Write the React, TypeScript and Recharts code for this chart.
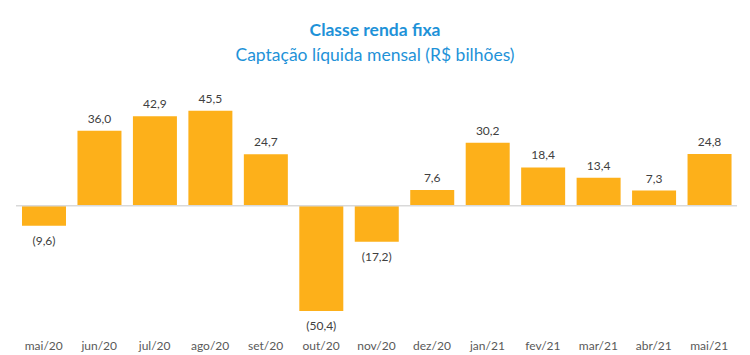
import React from 'react';
import { BarChart, Bar, XAxis, YAxis, ReferenceLine, LabelList } from 'recharts';

const months = [
  'mai/20', 'jun/20', 'jul/20', 'ago/20', 'set/20', 'out/20', 'nov/20',
  'dez/20', 'jan/21', 'fev/21', 'mar/21', 'abr/21', 'mai/21',
];
const captacao = [-9.6, 36.0, 42.9, 45.5, 24.7, -50.4, -17.2, 7.6, 30.2, 18.4, 13.4, 7.3, 24.8];

const FONT = 'Lato, "Open Sans", sans-serif';
const BAR_COLOR = '#FDB01A';
const BLUE = '#1E92D8';

const fmt = (v: number) => {
  const s = Math.abs(v).toFixed(1).replace('.', ',');
  return v < 0 ? `(${s})` : s;
};

const ValueLabel = (props: any) => {
  const { x, y, width, height, value } = props;
  const top = Math.min(y, y + height);
  const bottom = Math.max(y, y + height);
  const cx = x + width / 2;
  const ty = value < 0 ? bottom + 19 : top - 8;
  return (
    <text x={cx} y={ty} textAnchor="middle" fill="#404040" fontSize={12} fontFamily={FONT}>
      {fmt(value)}
    </text>
  );
};

const App: React.FC = () => {
  const data = months.map((m, i) => ({ name: m, value: captacao[i] }));

  return (
    <div style={{ position: 'absolute', left: 0, top: 0, width: 750, height: 355, background: '#fff' }}>
      <div style={{ position: 'absolute', top: 18, width: 750, textAlign: 'center', fontFamily: FONT, color: BLUE }}>
        <div style={{ fontSize: 17.5, fontWeight: 700, lineHeight: '24px' }}>Classe renda fixa</div>
        <div style={{ fontSize: 17.5, lineHeight: '25px' }}>Captação líquida mensal (R$ bilhões)</div>
      </div>
      <BarChart
        width={750}
        height={355}
        data={data}
        margin={{ top: 91, right: 13, bottom: 4, left: 16 }}
      >
        <YAxis hide domain={[-60, 55]} />
        <XAxis
          dataKey="name"
          height={20}
          axisLine={false}
          tickLine={false}
          tickMargin={4}
          interval={0}
          tick={{ fill: '#595959', fontSize: 12, fontFamily: FONT }}
        />
        <ReferenceLine y={0} stroke="#D9D9D9" strokeWidth={1.5} />
        <Bar dataKey="value" fill={BAR_COLOR} barSize={44} isAnimationActive={false}>
          <LabelList dataKey="value" content={ValueLabel} />
        </Bar>
      </BarChart>
    </div>
  );
};

export default App;
